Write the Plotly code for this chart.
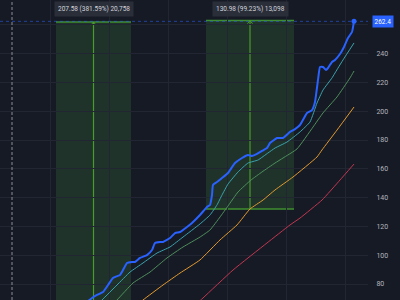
import plotly.graph_objects as go

# ---- data (bar index, price) ----
blue_x = [56, 75, 92, 97, 103, 108, 113, 120, 123, 127, 132, 135, 140, 147, 152, 155, 160, 163, 170, 175,
          180, 187, 192, 200, 207, 210, 212, 213, 217, 222, 228, 235, 242, 248, 252, 257, 262, 267, 270, 273,
          277, 283, 290, 295, 300, 307, 312, 315, 318, 320, 323, 326, 328, 332, 335, 340, 344, 348, 352, 354]
blue_y = [54.4, 61.0, 70.3, 72.4, 74.4, 79.3, 84.2, 86.3, 89.7, 94.6, 95.3, 95.3, 98.1, 100.1, 103.6, 108.5, 109.2, 109.2, 111.9, 115.4,
          116.1, 119.6, 122.4, 127.9, 133.5, 134.9, 141.8, 148.8, 150.8, 153.6, 157.1, 164.0, 167.5, 169.6, 168.9, 170.3, 172.4, 174.4, 177.9, 179.5,
          181.4, 181.4, 185.6, 187.6, 190.4, 198.8, 200.8, 206.4, 221.7, 230.7, 230.7, 228.6, 230.0, 234.2, 235.6, 239.7, 244.6, 250.8, 255.0, 262.4]

teal_x = [90, 102, 117, 130, 143, 157, 170, 183, 200, 210, 217, 222, 228, 238, 248, 258, 268, 275, 287, 300,
          310, 317, 323, 332, 338, 343, 354]
teal_y = [60.6, 68.9, 79.3, 88.3, 94.6, 101.5, 105.7, 112.6, 121.7, 127.9, 134.9, 141.8, 149.4, 157.8, 164.0, 166.1, 171.0, 174.4, 178.6, 185.6,
          192.5, 205.7, 214.7, 223.1, 230.0, 235.6, 247.4]

green_x = [105, 117, 133, 150, 167, 183, 200, 210, 220, 228, 238, 251, 262, 275, 283, 297, 313, 323, 337, 350, 354]
green_y = [61.0, 68.9, 80.7, 88.3, 98.1, 105.7, 112.6, 117.5, 126.5, 134.2, 143.9, 152.2, 157.8, 164.0, 167.5, 173.8, 189.0, 198.8, 209.9, 223.1, 227.9]

orange_x = [130, 143, 163, 180, 200, 220, 237, 250, 263, 275, 293, 317, 322, 337, 354]
orange_y = [61.0, 68.9, 79.3, 87.6, 96.7, 110.6, 121.0, 132.1, 138.3, 145.3, 154.3, 168.2, 173.1, 186.9, 202.9]

red_x = [190, 203, 233, 267, 290, 300, 322, 340, 354]
red_y = [62.0, 70.3, 89.7, 108.5, 121.0, 125.8, 138.3, 152.2, 163.3]

y_ticks = [80, 100, 120, 140, 160, 180, 200, 220, 240, 260]
x_grid = [50, 109, 168, 227, 286, 345]

# measurement tools: start bar, end bar, low, high, label
meas_x0 = [56, 206]
meas_x1 = [131, 294]
meas_low = [54.40, 132.0]
meas_high = [261.98, 262.98]
meas_label = ["207.58 (381.59%) 20,758", "130.98 (99.23%) 13,098"]

last_price = 262.4
session_break = 12

BG = "#161a25"
GRID = "#222632"
TXT = "#b2b5be"

fig = go.Figure()

series = [
    (red_x, red_y, "#c23650", 1),
    (orange_x, orange_y, "#e39a2e", 1),
    (green_x, green_y, "#4f8f5c", 1),
    (teal_x, teal_y, "#3aa3ae", 1),
    (blue_x, blue_y, "#2962ff", 2),
]
for xs, ys, c, w in series:
    fig.add_trace(go.Scatter(x=xs, y=ys, mode="lines", line=dict(color=c, width=w, shape="spline", smoothing=0.4),
                             hoverinfo="skip", showlegend=False))

fig.add_trace(go.Scatter(x=[blue_x[-1]], y=[blue_y[-1]], mode="markers",
                         marker=dict(color="#2962ff", size=5), showlegend=False, hoverinfo="skip"))

shapes = []
annotations = []
for x0, x1, lo, hi, lab in zip(meas_x0, meas_x1, meas_low, meas_high, meas_label):
    xm = (x0 + x1) / 2
    shapes.append(dict(type="rect", xref="x", yref="y", x0=x0, x1=x1, y0=lo, y1=hi,
                       fillcolor="rgba(76,175,80,0.17)", line=dict(width=0), layer="below"))
    shapes.append(dict(type="line", xref="x", yref="y", x0=x0, x1=x1, y0=hi, y1=hi,
                       line=dict(color="#3f8f2f", width=1.5), layer="below"))
    shapes.append(dict(type="line", xref="x", yref="y", x0=x0, x1=x1, y0=lo, y1=lo,
                       line=dict(color="#3f8f2f", width=1.5), layer="below"))
    shapes.append(dict(type="line", xref="x", yref="y", x0=xm, x1=xm, y0=lo, y1=hi,
                       line=dict(color="#4a9a2c", width=1.2), layer="below"))
    shapes.append(dict(type="path", xref="x", yref="y",
                       path=f"M {xm-2.5},{hi-2.2} L {xm},{hi} L {xm+2.5},{hi-2.2}",
                       line=dict(color="#4a9a2c", width=1), layer="below"))
    annotations.append(dict(x=xm, xref="x", y=0.97, yref="paper", text=lab, showarrow=False,
                            font=dict(family="Roboto", size=6.5, color="#d1d4dc"),
                            bgcolor="#2a2e39", borderpad=3, xanchor="center", yanchor="middle"))

shapes.append(dict(type="line", xref="paper", yref="y", x0=0, x1=0.92, y0=last_price, y1=last_price,
                   line=dict(color="rgba(41,98,255,0.55)", width=1, dash="dot")))
shapes.append(dict(type="line", xref="x", yref="paper", x0=session_break, x1=session_break, y0=0, y1=1,
                   line=dict(color="#8a8d96", width=1, dash="3px,2px")))

annotations.append(dict(x=0.93, xref="paper", y=last_price, yref="y", text=f"{last_price}", showarrow=False,
                        font=dict(family="Roboto", size=6.5, color="#ffffff"),
                        bgcolor="#2962ff", borderpad=1.5, xanchor="left", yanchor="middle"))

fig.update_layout(
    width=400, height=300,
    margin=dict(l=0, r=0, t=0, b=0),
    paper_bgcolor=BG, plot_bgcolor=BG,
    shapes=shapes, annotations=annotations,
    xaxis=dict(domain=[0, 0.92], range=[0, 368], showticklabels=False, tickvals=x_grid,
               showgrid=True, gridcolor=GRID, gridwidth=1, zeroline=False, showline=False, ticks=""),
    yaxis=dict(side="right", range=[68.89, 277.22], tickvals=y_ticks, showgrid=True, gridcolor=GRID,
               zeroline=False, showline=False, ticks="outside", ticklen=6, tickcolor="rgba(0,0,0,0)",
               tickfont=dict(family="Roboto", size=7, color=TXT)),
)

fig.write_html("out.html")
